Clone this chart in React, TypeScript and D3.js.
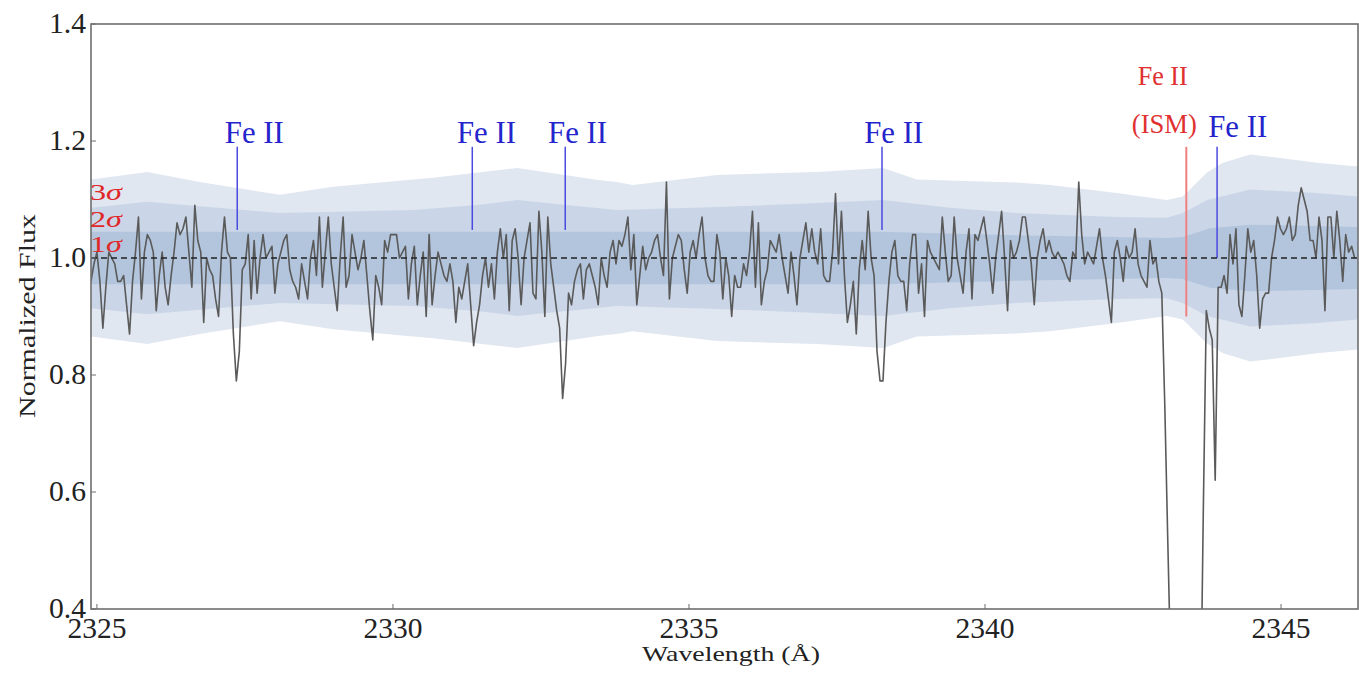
import React from 'react';
import * as d3 from 'd3';

// ---------- data ----------
const specStart = 2324.9;
const specStep = 0.0501;
const flux: number[] = [
  0.96, 0.99, 1.01, 0.96, 0.88, 0.95, 1.01, 1.00, 0.99, 0.96,
  0.96, 0.97, 0.92, 0.87, 0.96, 1.01, 1.07, 0.93, 1.01, 1.04,
  1.03, 1.01, 0.91, 0.97, 1.01, 0.95, 0.92, 0.97, 1.01, 1.06,
  1.04, 1.05, 1.07, 1.01, 0.95, 1.09, 1.03, 1.01, 0.89, 1.00,
  0.98, 0.97, 0.93, 0.90, 1.01, 1.07, 1.01, 1.00, 0.87, 0.79,
  0.84, 0.98, 0.99, 1.04, 0.93, 1.03, 0.94, 1.00, 1.04, 1.00,
  1.01, 1.02, 0.94, 0.99, 1.01, 1.03, 1.04, 0.98, 0.96, 0.95,
  0.93, 0.99, 0.96, 0.93, 1.00, 1.03, 0.97, 1.07, 0.95, 1.01,
  1.07, 0.99, 0.95, 0.91, 1.00, 1.07, 0.95, 0.97, 1.04, 1.01,
  0.98, 1.00, 1.03, 0.97, 0.91, 0.86, 0.97, 0.95, 0.92, 1.03,
  1.01, 1.04, 1.04, 1.04, 1.00, 1.01, 1.02, 0.93, 0.99, 1.02,
  0.92, 0.97, 1.01, 0.90, 1.04, 0.92, 0.97, 1.01, 0.99, 0.97,
  0.96, 0.99, 0.96, 0.89, 0.95, 0.93, 0.96, 0.99, 0.92, 0.85,
  0.89, 0.92, 0.97, 1.00, 0.95, 0.99, 0.93, 1.01, 1.05, 1.00,
  1.04, 0.91, 1.03, 1.05, 1.00, 0.92, 1.00, 1.03, 1.06, 0.94,
  0.93, 1.08, 1.01, 0.90, 1.07, 0.99, 0.95, 0.91, 0.88, 0.76,
  0.82, 0.94, 0.92, 0.96, 0.98, 0.99, 0.93, 0.98, 0.99, 0.97,
  0.95, 0.92, 1.00, 0.97, 0.95, 1.01, 1.03, 0.99, 1.03, 1.02,
  1.04, 1.07, 0.98, 1.04, 0.92, 0.97, 1.02, 0.98, 1.00, 1.01,
  1.03, 1.04, 1.00, 0.97, 1.13, 0.93, 1.00, 1.02, 1.04, 1.03,
  0.98, 0.94, 1.01, 1.03, 1.00, 1.04, 1.07, 1.00, 0.97, 0.96,
  0.96, 1.04, 1.01, 0.93, 1.00, 0.97, 0.90, 0.97, 0.95, 0.95,
  0.99, 0.97, 1.01, 1.08, 0.95, 1.06, 0.92, 0.96, 0.98, 1.03,
  1.02, 1.01, 1.04, 1.00, 0.97, 0.94, 1.01, 0.97, 0.92, 1.00,
  1.03, 1.06, 1.01, 1.05, 1.01, 0.99, 1.05, 0.97, 0.96, 0.96,
  1.01, 1.11, 0.99, 1.08, 0.97, 0.89, 0.92, 0.96, 0.87, 0.98,
  1.03, 0.98, 1.08, 1.00, 0.97, 0.84, 0.79, 0.79, 0.89, 0.96,
  1.01, 1.03, 0.97, 0.96, 0.96, 0.91, 0.99, 1.04, 1.04, 0.94,
  0.99, 0.90, 1.03, 1.01, 1.00, 0.99, 0.98, 1.07, 1.01, 0.96,
  0.97, 1.07, 1.00, 0.97, 0.94, 1.01, 1.05, 0.93, 1.04, 1.03,
  1.05, 1.07, 1.03, 0.99, 0.94, 1.00, 1.04, 1.08, 1.00, 0.91,
  1.03, 1.00, 1.01, 1.03, 1.07, 1.07, 1.03, 0.99, 0.92, 1.00,
  1.03, 1.05, 1.01, 1.03, 1.01, 1.00, 1.01, 1.00, 0.99, 0.97,
  0.96, 1.01, 1.00, 1.13, 1.04, 0.99, 1.01, 1.00, 0.99, 1.02,
  1.05, 1.00, 0.97, 0.93, 0.89, 1.01, 1.03, 1.00, 0.96, 1.02,
  1.00, 1.01, 1.05, 0.99, 0.97, 0.96, 0.95, 1.03, 0.99, 1.00,
  0.96, 0.94, 0.75, 0.52, 0.30, 0.12, 0.05, 0.03, 0.02, 0.02,
  0.03, 0.04, 0.06, 0.10, 0.18, 0.57, 0.91, 0.88, 0.86, 0.62,
  0.95, 0.95, 0.97, 0.94, 1.04, 0.99, 1.05, 0.92, 0.90, 0.97,
  1.05, 1.01, 1.03, 0.97, 0.88, 0.93, 0.94, 0.94, 1.00, 1.03,
  1.07, 1.05, 1.04, 1.05, 1.07, 1.03, 1.04, 1.09, 1.12, 1.10,
  1.08, 1.03, 1.03, 1.00, 1.07, 1.03, 0.91, 1.07, 1.07, 1.00,
  1.08, 1.03, 0.96, 1.04, 1.01, 1.02, 1.00,
];

// half-widths of the significance bands around 1.0
const band3Wave = [2324.90, 2325.85, 2326.74, 2328.09, 2328.99, 2330.34, 2330.68, 2332.10, 2333.50, 2333.78, 2334.05, 2335.47, 2337.16, 2338.28, 2338.85, 2340.54, 2341.10, 2342.23, 2343.07, 2343.34, 2343.75, 2344.02, 2344.48, 2345.61, 2346.32];
const band3Half = [0.134, 0.147, 0.130, 0.108, 0.122, 0.134, 0.137, 0.154, 0.133, 0.130, 0.125, 0.142, 0.147, 0.154, 0.134, 0.129, 0.125, 0.111, 0.099, 0.105, 0.146, 0.163, 0.177, 0.163, 0.156];
const band2Wave = [2324.90, 2325.85, 2328.09, 2330.34, 2331.47, 2332.10, 2333.78, 2335.47, 2337.16, 2338.28, 2339.41, 2340.54, 2342.23, 2343.07, 2343.34, 2343.75, 2344.48, 2345.61, 2346.32];
const band2Half = [0.086, 0.096, 0.077, 0.082, 0.091, 0.099, 0.082, 0.087, 0.094, 0.099, 0.086, 0.077, 0.070, 0.069, 0.077, 0.099, 0.117, 0.111, 0.105];
const band1Wave = [2324.90, 2338.28, 2340.54, 2343.07, 2343.34, 2343.80, 2344.48, 2346.32];
const band1Half = [0.045, 0.045, 0.039, 0.034, 0.036, 0.051, 0.057, 0.053];

// line identifications
const lineWave = [2327.37, 2331.34, 2332.91, 2338.26, 2343.92];
const lineLabelWave = [2327.16, 2331.08, 2332.62, 2337.96, 2343.77];
const lineBottom = [1.048, 1.048, 1.048, 1.048, 1.0];
const lineLabelFlux = [1.197, 1.197, 1.197, 1.197, 1.207];
const lineTop = 1.19;
const ismWave = 2343.40;
const ismBottom = 0.90;
const ismLabel1 = { text: 'Fe II', wave: 2342.58, flux: 1.296 };
const ismLabel2 = { text: '(ISM)', wave: 2342.48, flux: 1.214 };

const sigmaLabels = ['3σ', '2σ', '1σ'];
const sigmaLabelFlux = [1.099, 1.053, 1.010];

const xTicks = [2325, 2330, 2335, 2340, 2345];
const yTicks = [0.4, 0.6, 0.8, 1.0, 1.2, 1.4];

// ---------- layout ----------
const W = 1359;
const H = 686;
const L = 91, R = 1358, T = 24, B = 609;
const FONT = "'Liberation Serif', 'Times New Roman', serif";

export default function App() {
  const x = d3.scaleLinear().domain([2324.9, 2346.3]).range([L, R]);
  const y = d3.scaleLinear().domain([0.4, 1.4]).range([B, T]);

  const spec: [number, number][] = flux.map((f, i) => [specStart + i * specStep, f]);
  const specPath = d3.line<[number, number]>().x(d => x(d[0])).y(d => y(d[1]))(spec) || '';

  const band = (wave: number[], half: number[]) =>
    d3.area<number>()
      .x((_, i) => x(wave[i]))
      .y0((_, i) => y(1 - half[i]))
      .y1((_, i) => y(1 + half[i]))(half) || '';

  const fmt = d3.format('.1f');

  return (
    <svg width={W} height={H} style={{ position: 'fixed', left: 0, top: 0, background: '#fff' }}
      fontFamily={FONT}>
      <defs>
        <clipPath id="plotclip">
          <rect x={L} y={T} width={R - L} height={B - T} />
        </clipPath>
      </defs>
      <rect x={0} y={0} width={W} height={H} fill="#fff" />
      <g clipPath="url(#plotclip)">
        <path d={band(band3Wave, band3Half)} fill="#e1e7f1" />
        <path d={band(band2Wave, band2Half)} fill="#cad6e7" />
        <path d={band(band1Wave, band1Half)} fill="#b3c5dd" />
        {lineWave.map((w, i) => (
          <line key={'l' + i} x1={x(w)} x2={x(w)} y1={y(lineTop)} y2={y(lineBottom[i])}
            stroke="#4a4ae0" strokeWidth={1.5} />
        ))}
        <line x1={x(ismWave)} x2={x(ismWave)} y1={y(lineTop)} y2={y(ismBottom)} stroke="#f08080" strokeWidth={2} />
        <path d={specPath} fill="none" stroke="#5a5a5a" strokeWidth={1.6} strokeLinejoin="round" />
        <line x1={L} x2={R} y1={y(1)} y2={y(1)} stroke="#222" strokeWidth={1.4} strokeDasharray="6,4" />
      </g>

      {/* frame */}
      <rect x={L} y={T} width={R - L} height={B - T} fill="none" stroke="#6e6e6e" strokeWidth={1.6} />

      {/* ticks */}
      {xTicks.map(t => (
        <g key={'xt' + t}>
          <line x1={x(t)} x2={x(t)} y1={B} y2={B - 5} stroke="#6e6e6e" strokeWidth={1} />
          <text x={x(t)} y={638} textAnchor="middle" fontSize={30} fill="#222"
            textLength={59} lengthAdjust="spacingAndGlyphs">{t}</text>
        </g>
      ))}
      {yTicks.map(t => (
        <g key={'yt' + t}>
          <line x1={L} x2={L + 5} y1={y(t)} y2={y(t)} stroke="#6e6e6e" strokeWidth={1} />
          <text x={86} y={y(t) + 9} textAnchor="end" fontSize={29} fill="#222"
            textLength={37} lengthAdjust="spacingAndGlyphs">{fmt(t)}</text>
        </g>
      ))}

      {/* axis titles */}
      <text x={731} y={661} textAnchor="middle" fontSize={22} fill="#222"
        textLength={178} lengthAdjust="spacingAndGlyphs">Wavelength (Å)</text>
      <text transform="translate(35,316) rotate(-90)" textAnchor="middle" fontSize={24} fill="#222"
        textLength={204} lengthAdjust="spacingAndGlyphs">Normalized Flux</text>

      {/* sigma labels */}
      {sigmaLabels.map((s, i) => (
        <text key={s} x={L - 1} y={y(sigmaLabelFlux[i])} fontSize={24} fill="#e02828"
          textLength={32} lengthAdjust="spacingAndGlyphs">
          {s[0]}<tspan fontStyle="italic">{s.slice(1)}</tspan>
        </text>
      ))}

      {/* line labels */}
      {lineLabelWave.map((w, i) => (
        <text key={'lt' + i} x={x(w)} y={y(lineLabelFlux[i])} fontSize={32} fill="#2424cc"
          textLength={59} lengthAdjust="spacingAndGlyphs">Fe II</text>
      ))}
      <text x={x(ismLabel1.wave)} y={y(ismLabel1.flux)} fontSize={28} fill="#e03030"
        textLength={50} lengthAdjust="spacingAndGlyphs">{ismLabel1.text}</text>
      <text x={x(ismLabel2.wave)} y={y(ismLabel2.flux)} fontSize={28} fill="#e03030"
        textLength={65} lengthAdjust="spacingAndGlyphs">{ismLabel2.text}</text>
    </svg>
  );
}
